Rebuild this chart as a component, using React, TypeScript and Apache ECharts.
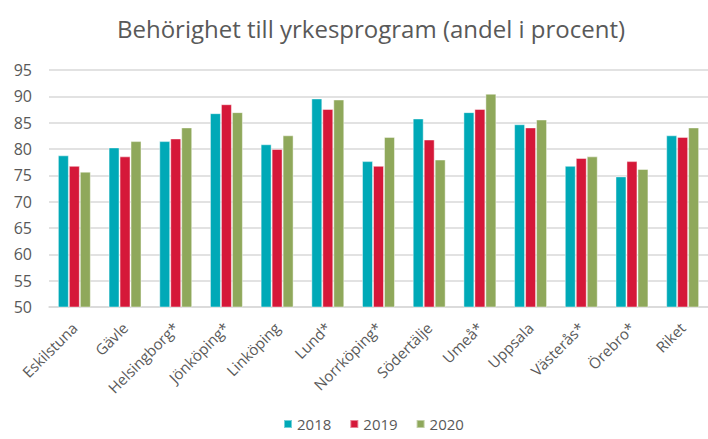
import React, { useEffect, useRef } from "react";
import * as echarts from "echarts";

const categories = [
  "Eskilstuna", "Gävle", "Helsingborg*", "Jönköping*", "Linköping", "Lund*",
  "Norrköping*", "Södertälje", "Umeå*", "Uppsala", "Västerås*", "Örebro*", "Riket",
];
const values2018 = [78.8, 80.3, 81.5, 86.8, 80.9, 89.6, 77.7, 85.8, 87.0, 84.7, 76.8, 74.8, 82.6];
const values2019 = [76.8, 78.6, 82.0, 88.5, 80.0, 87.6, 76.8, 81.8, 87.6, 84.1, 78.3, 77.7, 82.3];
const values2020 = [75.7, 81.5, 84.1, 87.0, 82.6, 89.4, 82.3, 78.0, 90.5, 85.6, 78.6, 76.2, 84.1];
const seriesNames = ["2018", "2019", "2020"];
const colors = ["#00A9B7", "#D51839", "#8FA85B"];

export default function App() {
  const ref = useRef<HTMLDivElement>(null);
  useEffect(() => {
    document.body.style.margin = "0";
    if (!ref.current) return;
    const chart = echarts.init(ref.current, null, { renderer: "svg" });
    const font = "'Open Sans', sans-serif";
    const data = [values2018, values2019, values2020];
    chart.setOption({
      animation: false,
      title: {
        text: "Behörighet till yrkesprogram (andel i procent)",
        left: 366,
        textAlign: "center",
        top: 11,
        textStyle: { fontFamily: font, fontSize: 24, fontWeight: "normal", color: "#595959" },
      },
      legend: {
        top: 415,
        left: 283,
        padding: 0,
        icon: "rect",
        itemWidth: 8,
        itemHeight: 8,
        itemGap: 18,
        itemTextGap: 4,
        textStyle: { fontFamily: font, fontSize: 15, lineHeight: 18, color: "#595959" },
        data: seriesNames,
      },
      grid: { left: 49, top: 70, bottom: 132, width: 664 },
      xAxis: {
        type: "category",
        data: categories,
        axisTick: { show: false },
        axisLine: { lineStyle: { color: "#d9d9d9", width: 1.5 } },
        axisLabel: {
          rotate: 45,
          interval: 0,
          margin: 18,
          fontFamily: font,
          fontSize: 15,
          color: "#595959",
        },
      },
      yAxis: {
        type: "value",
        min: 50,
        max: 95,
        interval: 5,
        axisLine: { show: false },
        axisTick: { show: false },
        splitLine: { lineStyle: { color: "#d9d9d9", width: 1.5 } },
        axisLabel: { fontFamily: font, fontSize: 16, color: "#595959", margin: 17 },
      },
      series: seriesNames.map((name, i) => ({
        name,
        type: "bar",
        data: data[i],
        barGap: "0%",
        barCategoryGap: "35%",
        itemStyle: { color: colors[i], borderColor: "rgba(255,255,255,0.45)", borderWidth: 1 },
      })),
    });
    return () => chart.dispose();
  }, []);
  return <div ref={ref} style={{ width: 708, height: 439 }} />;
}
